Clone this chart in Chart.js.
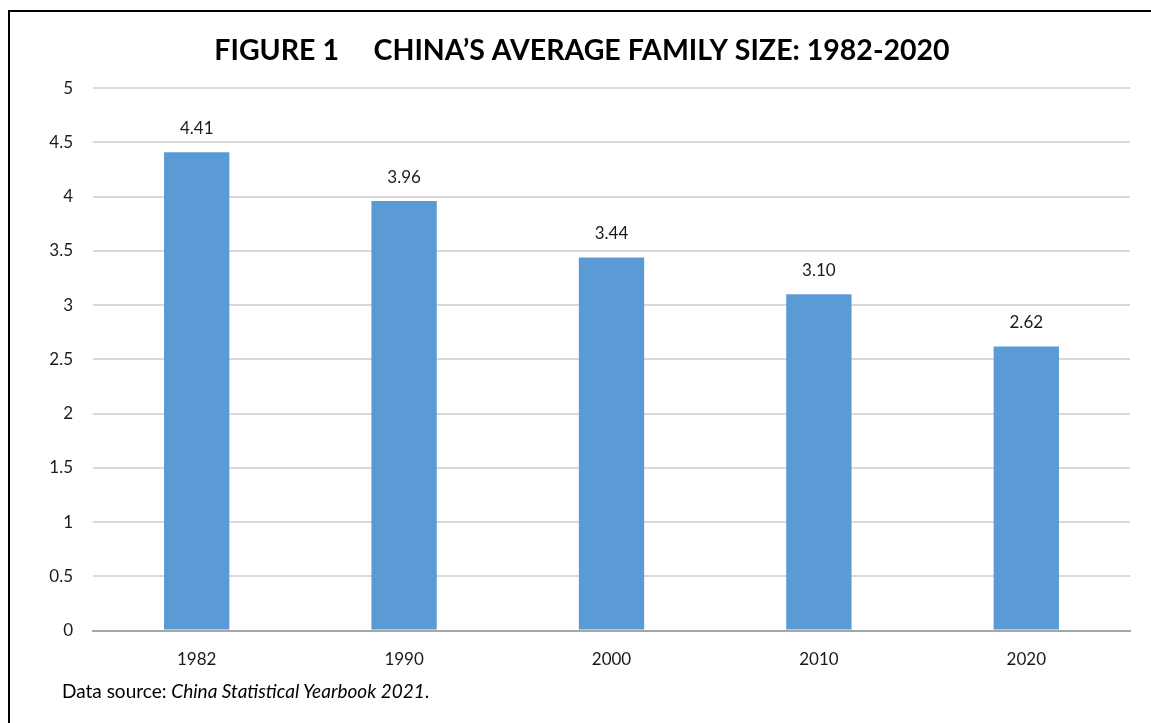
<!DOCTYPE html>
<html>
<head>
<meta charset="utf-8">
<script src="https://cdn.jsdelivr.net/npm/chart.js@4.4.0/dist/chart.umd.min.js"></script>
<style>
  body { margin: 0; background: #fff; width: 1151px; height: 723px; overflow: hidden; position: relative; font-family: Lato, "Open Sans", sans-serif; }
  .frame { position: absolute; left: 8px; top: 10px; width: 1160px; height: 730px; border: 2px solid #000; box-sizing: border-box; }
  .chart-box { position: absolute; left: 0; top: 0; width: 1151px; height: 693px; }
  .source { position: absolute; left: 62px; top: 679px; font-size: 19px; color: #000; }
  .source i { font-style: italic; }
</style>
</head>
<body>
<div class="frame"></div>
<div class="chart-box"><canvas id="myChart"></canvas></div>
<div class="source">Data source: <i>China Statistical Yearbook 2021</i>.</div>
<script>
const ctx = document.getElementById('myChart').getContext('2d');

const years = ['1982', '1990', '2000', '2010', '2020'];
const familySize = [4.41, 3.96, 3.44, 3.10, 2.62];
const yTicks = [0, 0.5, 1, 1.5, 2, 2.5, 3, 3.5, 4, 4.5, 5];

// Value labels above each bar
const barLabels = {
  id: 'barLabels',
  afterDatasetsDraw(chart) {
    const c = chart.ctx;
    const meta = chart.getDatasetMeta(0);
    c.save();
    c.font = '17px Lato, "Open Sans", sans-serif';
    c.fillStyle = '#1a1a1a';
    c.textAlign = 'center';
    c.textBaseline = 'middle';
    meta.data.forEach((bar, i) => {
      c.fillText(familySize[i].toFixed(2), bar.x, bar.y - 24);
    });
    c.restore();
  }
};

Chart.defaults.font.family = 'Lato, "Open Sans", sans-serif';
const myChart = new Chart(ctx, {
  type: 'bar',
  data: {
    labels: years,
    datasets: [{
      label: 'Average family size',
      data: familySize,
      backgroundColor: '#5B9BD5',
      borderWidth: 0,
      barPercentage: 1,
      categoryPercentage: 0.315
    }]
  },
  options: {
    responsive: true,
    maintainAspectRatio: false,
    animation: false,
    layout: {
      padding: { left: 34, right: 21, top: 0, bottom: 12 }
    },
    plugins: {
      legend: { display: false },
      tooltip: { enabled: false },
      title: {
        display: true,
        text: 'FIGURE 1     CHINA\u2019S AVERAGE FAMILY SIZE: 1982-2020',
        color: '#000',
        font: { size: 28.5, weight: 'bold' },
        padding: { top: 34, bottom: 20 }
      }
    },
    scales: {
      x: {
        grid: { display: false },
        border: { display: true, color: '#A6A6A6', width: 2 },
        ticks: {
          color: '#1a1a1a',
          font: { size: 17 },
          padding: 11,
          maxRotation: 0
        }
      },
      y: {
        min: 0,
        max: 5,
        afterBuildTicks: scale => {
          scale.ticks = yTicks.map(v => ({ value: v }));
        },
        afterFit: scale => {
          scale.width = 59;
        },
        grid: { color: '#D9D9D9', lineWidth: 2, drawTicks: false },
        border: { display: false },
        ticks: {
          color: '#1a1a1a',
          font: { size: 17 },
          padding: 20,
          callback: v => String(v)
        }
      }
    }
  },
  plugins: [barLabels]
});
</script>
</body>
</html>
